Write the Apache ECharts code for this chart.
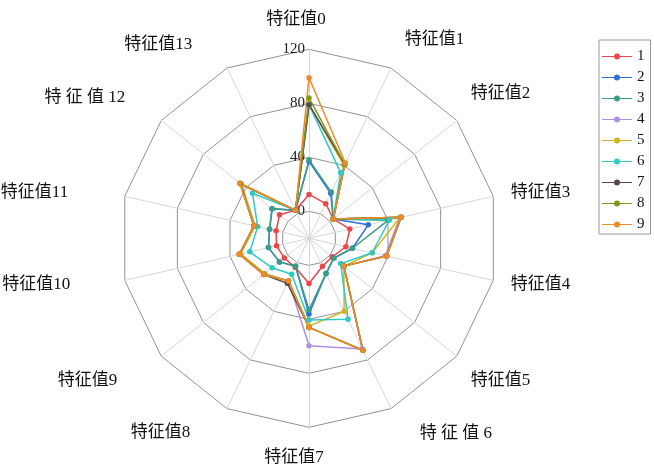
<!DOCTYPE html>
<html>
<head>
<meta charset="utf-8">
<script src="https://cdn.jsdelivr.net/npm/echarts@6/dist/echarts.min.js"></script>
<style>
  html, body { margin: 0; padding: 0; background: #fff; }
  #main { width: 654px; height: 476px; }
</style>
</head>
<body>
<div id="main"></div>
<script>
const names = ['特征值0', '特征值1', '特征值2', '特征值3', '特征值4', '特征值5', '特 征 值 6',
  '特征值7', '特征值8', '特征值9', '特征值10', '特征值11', '特 征 值 12', '特征值13'];
const seriesNames = ['1', '2', '3', '4', '5', '6', '7', '8', '9'];
const tickLabels = [0, 40, 80, 120];

const s1 = [12.5, 8.5, 3, 11, 8, 2, 3, 13.5, 3.7, 3.4, 4.7, 5, 8, 3];
const s2 = [37, 17, 3, 25, 13, 3.5, 9, 36, 3, 8, 10.8, 10, 15, 3];
const s3 = [38, 18, 3, 40, 13, 3.5, 9, 33, 3, 8, 10.8, 10, 15, 3];
const s4 = [79, 40, 3, 49, 38, 13, 71, 59.5, 15, 22, 32, 21, 44, 3];
const s5 = [79, 40, 3, 49, 28, 13, 40, 45, 15, 22, 32, 21, 44, 3];
const s6 = [79, 34, 3, 41, 28, 10, 46.5, 40.5, 9.6, 15, 25, 19, 33.6, 3];
const s7 = [79, 41, 3, 50, 39, 13, 72, 46, 17, 23, 33, 22, 45, 3];
const s8 = [84, 41, 3, 50, 39, 13, 72, 46, 15, 23, 33, 21.8, 45.5, 3];
const s9 = [99, 42, 3, 50, 39, 13, 72, 46, 15, 23, 33, 21.8, 45.5, 3];

const allValues = [s1, s2, s3, s4, s5, s6, s7, s8, s9];
const colors = ['#e8474e', '#2f6fd8', '#3a9e82', '#b28ee6', '#d6b21e',
  '#2ec9c4', '#5a4848', '#7a9a1a', '#ee8a2a'];

const fontFam = "'Liberation Serif', 'Noto Sans CJK SC', serif";

// the names in the original sit a little off the plain radial spot,
// nudge each one with padding [top, right, bottom, left]
const namePads = [
  [0, 26, 3, 0], [0, 0, 24, 6], [0, 0, 32, 0], [0, 0, 0, 0], [0, 0, 0, 0],
  [26, 0, 0, 0], [18, 0, 0, 21], [4, 30, 0, 0], [16, 29, 0, 0], [26, 30, 0, 0],
  [0, 37, 0, 0], [0, 39, 0, 0], [0, 22, 24, 0], [0, 27, 14, 0]
];

// radar runs counter-clockwise, so keep 0 on top and list the rest backwards
const order = [0];
for (let i = names.length - 1; i > 0; i--) order.push(i);

const rich = {};
names.forEach(function (n, k) {
  rich['p' + k] = { padding: namePads[k], fontSize: 17, color: '#111', fontFamily: fontFam };
});

const chart = echarts.init(document.getElementById('main'));

// only the first axis carries the value labels
const indicator = order.map(function (k, i) {
  const ind = { name: names[k], min: -20, max: 120 };
  if (i === 0) {
    ind.axisLabel = {
      show: true,
      fontSize: 15,
      color: '#222',
      fontFamily: fontFam,
      margin: 4,
      formatter: function (v) {
        return tickLabels.indexOf(v) >= 0 ? String(v) : '';
      }
    };
  }
  return ind;
});

// legend icon: thin line with a dot in the middle
const lineDot = 'path://M0,4.4H30V5.6H0Z M15,2A3,3 0 1,1 15,8A3,3 0 1,1 15,2Z';

const series = allValues.map(function (vals, i) {
  return {
    type: 'radar',
    name: seriesNames[i],
    symbol: 'circle',
    symbolSize: 5.5,
    itemStyle: { color: colors[i] },
    lineStyle: { color: colors[i], width: 1.5 },
    data: [{ value: order.map(function (k) { return vals[k]; }), name: seriesNames[i] }]
  };
});

chart.setOption({
  animation: false,
  color: colors,
  legend: {
    orient: 'vertical',
    left: 599,
    top: 40,
    itemWidth: 30,
    itemHeight: 10,
    itemGap: 6,
    padding: [9, 6, 2, 3],
    borderColor: '#999',
    borderWidth: 1,
    borderRadius: 0,
    textStyle: { fontSize: 15, color: '#111', fontFamily: fontFam },
    data: seriesNames.map(function (n) { return { name: n, icon: lineDot }; })
  },
  radar: {
    center: ['47.25%', '50.07%'],
    radius: 189,
    startAngle: 90,
    shape: 'polygon',
    splitNumber: 7,
    nameGap: 18,
    axisName: {
      color: '#111',
      fontSize: 17,
      fontFamily: fontFam,
      formatter: function (n) {
        return '{p' + names.indexOf(n) + '|' + n + '}';
      },
      rich: rich
    },
    axisLine: { lineStyle: { color: '#d6d6d6', width: 1 } },
    axisTick: { show: false },
    axisLabel: { show: false },
    splitArea: { show: false },
    splitLine: {
      lineStyle: {
        color: ['none', '#929292', 'none', '#929292', 'none', '#929292', 'none', '#929292'],
        width: 1
      }
    },
    indicator: indicator
  },
  series: series
});
</script>
</body>
</html>
